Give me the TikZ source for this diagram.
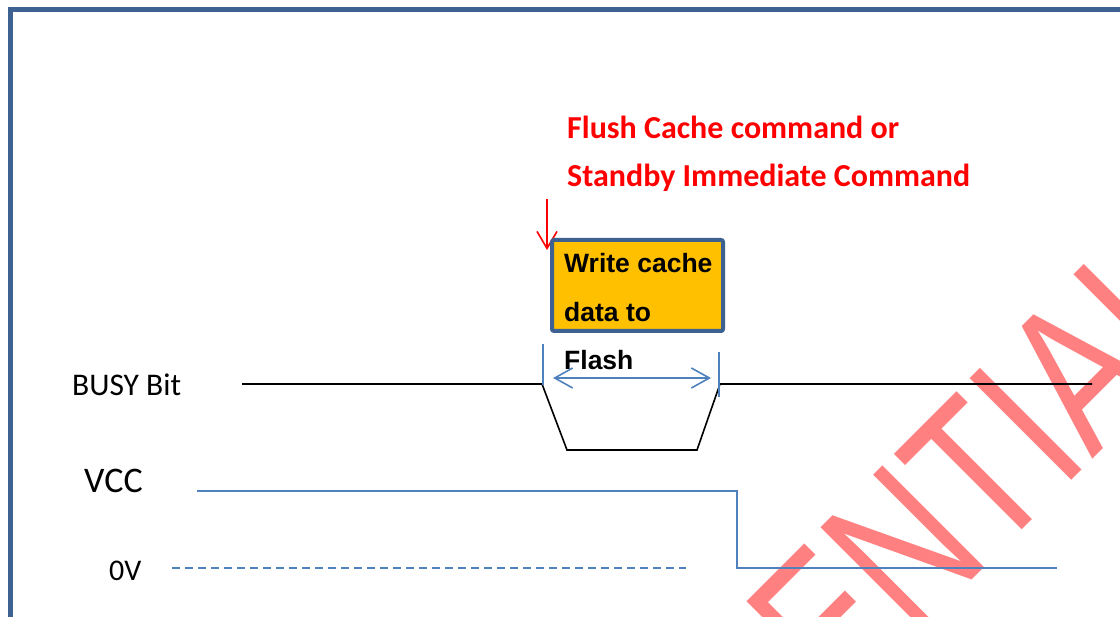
\documentclass[tikz,border=0pt]{standalone}
\usepackage{graphicx}
\usepackage{fontspec}
\setmainfont{Carlito}
\newfontfamily\arialfont{Liberation Sans}
\usetikzlibrary{arrows.meta}
\definecolor{cadre}{RGB}{61,98,145}
\definecolor{signalbleu}{RGB}{79,129,189}
\definecolor{boite}{RGB}{255,192,0}
\definecolor{filigrane}{RGB}{255,128,128}

\begin{document}
\begin{tikzpicture}[x=1pt,y=-1pt]
\tikzstyle{trace}=[line width=1.6pt,black]
\tikzstyle{bleu}=[line width=1.6pt,signalbleu]
\tikzset{etiquette/.style={inner sep=0pt,anchor=base west,font=\fontsize{#1}{#1}\selectfont},
etiquette/.default={31.5}}
\clip (0,0) rectangle (1120,617);
\fill[white] (0,0) rectangle (1120,617);

% filigrane
\node[inner sep=0pt,rotate=45,anchor=base east,text=filigrane,font=\arialfont\fontsize{209}{209}\selectfont] (wm) at (1227.8,324.2) {\scalebox{0.75}[1]{CONFIDENTIAL}};

\draw[cadre,line width=4.5pt] (10.5,640) -- (10.5,9.5) -- (1140,9.5);

\node[etiquette] (busy) at (72,395.7) {BUSY Bit};
\node[etiquette=36] (vcc) at (84,492.7) {VCC};
\node[etiquette=30] (zero) at (109,580) {0V};

% commande
\node[etiquette,text=red,align=left,font=\bfseries\fontsize{32}{48.4}\selectfont] (cmd) at (567,186.7) {Flush Cache command or\\Standby Immediate Command};
\coordinate (depart) at (547,199);
\coordinate (arrivee) at (547,250);
\draw[red,line width=1.6pt,-{Straight Barb[length=17pt,width=20pt]}] (depart) -- (arrivee);

\node[draw=cadre,line width=4pt,fill=boite,rounded corners=2pt,minimum width=171pt,minimum height=91pt,inner sep=0pt] (boite) at (637.5,285.5) {};
\node[inner sep=0pt,anchor=base west,align=left,font=\arialfont\bfseries\fontsize{26.5}{48.8}\selectfont] (texte) at (564,370) {Write cache\\data to\\Flash};

% BUSY
\coordinate (b0) at (242,384);
\coordinate (b1) at (542,384);
\coordinate (b2) at (567,450);
\coordinate (b3) at (697,450);
\coordinate (b4) at (720,384);
\coordinate (b5) at (1092,384);
\draw[trace] (b0) -- (b1) -- (b2) -- (b3) -- (b4) -- (b5);

\coordinate (t1) at (543,344);\coordinate (t2) at (719,352);
\draw[bleu] (t1) -- (543,385);
\draw[bleu] (t2) -- (719,397);
\coordinate (d1) at (553,378);\coordinate (d2) at (711,378);
\draw[bleu,{Straight Barb[length=18pt,width=20pt]}-{Straight Barb[length=18pt,width=20pt]}] (d1) -- (d2);

% VCC
\draw[bleu] (197,491) -- (737,491) -- (737,568) -- (1057,568);
\draw[bleu,dash pattern=on 8pt off 5pt] (172,568) -- (686,568);

\end{tikzpicture}
\end{document}
